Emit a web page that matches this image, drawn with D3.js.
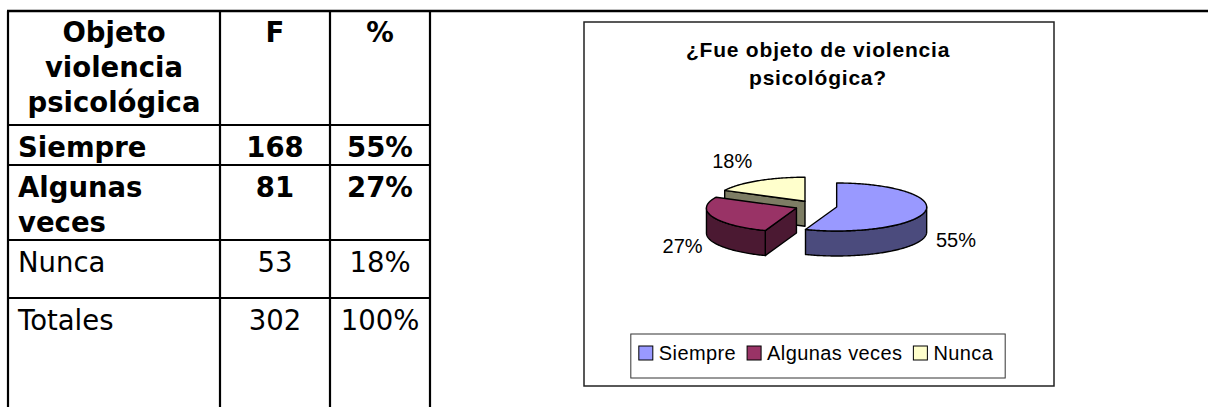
<!DOCTYPE html>
<html>
<head>
<meta charset="utf-8">
<script src="https://cdn.jsdelivr.net/npm/d3@7"></script>
<style>
  html, body { margin: 0; padding: 0; background: #fff; }
  svg { display: block; }
</style>
</head>
<body>
<svg id="chart" width="1208" height="407"></svg>
<script>
// data
const categories = ["Siempre", "Algunas veces", "Nunca"];
const freq = [168, 81, 53];
const pct = ["55%", "27%", "18%"];
const total_freq = 302;
const total_pct = "100%";

const header_lines = ["Objeto", "violencia", "psicológica"];
const header_cols = ["F", "%"];
const row_lines = [["Siempre"], ["Algunas", "veces"], ["Nunca"], ["Totales"]];
const row_bold = [true, true, false, false];
const title_lines = ["¿Fue objeto de violencia", "psicológica?"];
const top_colors = ["#9999ff", "#993366", "#ffffcc"];

const svg = d3.select("#chart");

// ---- table on the left ----
const col_x = [8, 220, 330, 430];
const row_y = [11, 125, 165, 240, 298, 420];
const table_font = "'DejaVu Sans', Verdana, sans-serif";
const line_h = 35;

const grid = svg.append("g").attr("stroke", "#000").attr("stroke-width", 2.2);

// long top line runs across to the page edge (outer table)
grid.append("line").attr("x1", col_x[0] - 1).attr("x2", 1208).attr("y1", row_y[0]).attr("y2", row_y[0]).attr("stroke-width", 2.6);
col_x.forEach(x => {
  grid.append("line").attr("x1", x).attr("x2", x).attr("y1", row_y[0]).attr("y2", 407);
});
row_y.slice(1, 5).forEach(y => {
  grid.append("line").attr("x1", col_x[0]).attr("x2", col_x[3]).attr("y1", y).attr("y2", y);
});

const cell_text = svg.append("g")
  .attr("font-family", table_font)
  .attr("font-size", 27.5)
  .attr("fill", "#000");

// header
header_lines.forEach((t, i) => {
  cell_text.append("text")
    .attr("x", (col_x[0] + col_x[1]) / 2)
    .attr("y", row_y[0] + 31 + i * line_h)
    .attr("text-anchor", "middle")
    .attr("font-weight", "bold")
    .text(t);
});
header_cols.forEach((t, i) => {
  cell_text.append("text")
    .attr("x", (col_x[i + 1] + col_x[i + 2]) / 2)
    .attr("y", row_y[0] + 31)
    .attr("text-anchor", "middle")
    .attr("font-weight", "bold")
    .text(t);
});

// body rows
const f_col = [...freq, total_freq];
const p_col = [...pct, total_pct];
row_lines.forEach((lines, r) => {
  const base = row_y[r + 1] + 32;
  const weight = row_bold[r] ? "bold" : "normal";
  lines.forEach((t, i) => {
    cell_text.append("text")
      .attr("x", col_x[0] + 10)
      .attr("y", base + i * line_h)
      .attr("font-weight", weight)
      .text(t);
  });
  cell_text.append("text")
    .attr("x", (col_x[1] + col_x[2]) / 2)
    .attr("y", base)
    .attr("text-anchor", "middle")
    .attr("font-weight", weight)
    .text(f_col[r]);
  cell_text.append("text")
    .attr("x", (col_x[2] + col_x[3]) / 2)
    .attr("y", base)
    .attr("text-anchor", "middle")
    .attr("font-weight", weight)
    .text(p_col[r]);
});

// ---- chart box on the right ----
const box = { x0: 584, y0: 22, x1: 1054, y1: 386 };
const box_cx = (box.x0 + box.x1) / 2 - 1;
const chart_font = "'Liberation Sans', Arial, sans-serif";

svg.append("rect")
  .attr("x", box.x0).attr("y", box.y0)
  .attr("width", box.x1 - box.x0).attr("height", box.y1 - box.y0)
  .attr("fill", "#fff").attr("stroke", "#222").attr("stroke-width", 1.5);

svg.append("g")
  .attr("font-family", chart_font)
  .attr("font-size", 21)
  .attr("font-weight", "bold")
  .attr("letter-spacing", 0.8)
  .selectAll("text")
  .data(title_lines)
  .join("text")
  .attr("x", box_cx)
  .attr("y", (d, i) => 57 + i * 28)
  .attr("text-anchor", "middle")
  .text(d => d);

// 3D exploded pie
const arcs = d3.pie().sort(null).value(d => d)(freq);
const rx = 90, ry = 24, depth = 25, explode = 21;
const pie_c = [816, 206];

function at(c, a, r = 1) {
  return [c[0] + rx * r * Math.sin(a), c[1] - ry * r * Math.cos(a)];
}
function arc_points(c, a0, a1, dy = 0) {
  const n = Math.max(2, Math.ceil(Math.abs(a1 - a0) / (Math.PI / 180)));
  return d3.range(n + 1).map(i => {
    const p = at(c, a0 + (a1 - a0) * i / n);
    return [p[0], p[1] + dy];
  });
}
const poly = d3.line();

const slices = arcs.map((d, i) => {
  const mid = (d.startAngle + d.endAngle) / 2;
  const c = [pie_c[0] + explode * Math.sin(mid), pie_c[1] - explode * (ry / rx) * Math.cos(mid)];
  return { d, i, mid, c };
});

const pie_g = svg.append("g")
  .attr("stroke", "#000")
  .attr("stroke-width", 1.4)
  .attr("stroke-linejoin", "round");

slices.slice().sort((a, b) => a.c[1] - b.c[1]).forEach(s => {
  const { d, c } = s;
  const top = top_colors[s.i];
  const side = d3.color(top).darker(2).formatHex();
  const g = pie_g.append("g");

  // cut faces that look toward the viewer
  [[d.startAngle, Math.sin(d.startAngle) < -1e-6], [d.endAngle, Math.sin(d.endAngle) > 1e-6]]
    .forEach(([a, visible]) => {
      if (!visible) return;
      const p = at(c, a);
      g.append("path")
        .attr("d", poly([c, p, [p[0], p[1] + depth], [c[0], c[1] + depth]]) + "Z")
        .attr("fill", side);
    });

  // outer wall on the front half
  const a0 = Math.max(d.startAngle, Math.PI / 2);
  const a1 = Math.min(d.endAngle, Math.PI * 1.5);
  if (a1 > a0) {
    const pts = arc_points(c, a0, a1).concat(arc_points(c, a1, a0, depth));
    g.append("path").attr("d", poly(pts) + "Z").attr("fill", side);
  }

  // top face
  g.append("path")
    .attr("d", poly([c, ...arc_points(c, d.startAngle, d.endAngle)]) + "Z")
    .attr("fill", top);
});

// percentage labels
svg.append("g")
  .attr("font-family", chart_font)
  .attr("font-size", 20)
  .selectAll("text")
  .data(slices)
  .join("text")
  .each(function (s) {
    const front = Math.cos(s.mid) < 0;
    const p = at(s.c, s.mid, 1.12);
    d3.select(this)
      .attr("x", p[0])
      .attr("y", p[1] + (front ? depth + 10 : -10))
      .attr("text-anchor", Math.sin(s.mid) >= 0 ? "start" : "end");
  })
  .text(s => pct[s.i]);

// legend
const legend = svg.append("g")
  .attr("font-family", chart_font)
  .attr("font-size", 20)
  .attr("letter-spacing", 0.4);
const sq = 14, sq_gap = 6, item_gap = 11, pad = 8;
let cursor = 0;
categories.forEach((name, i) => {
  const g = legend.append("g");
  g.append("rect")
    .attr("x", cursor).attr("y", -sq)
    .attr("width", sq).attr("height", sq)
    .attr("fill", top_colors[i]).attr("stroke", "#000").attr("stroke-width", 1);
  const t = g.append("text").attr("x", cursor + sq + sq_gap).attr("y", 0).text(name);
  cursor += sq + sq_gap + t.node().getComputedTextLength() + item_gap;
});
const legend_w = cursor - item_gap + pad * 2 + 4;
const legend_x = box_cx - legend_w / 2;
legend.insert("rect", ":first-child")
  .attr("x", -pad).attr("y", -26)
  .attr("width", legend_w).attr("height", 44)
  .attr("fill", "#fff").attr("stroke", "#333").attr("stroke-width", 1);
legend.attr("transform", `translate(${legend_x + pad},${360})`);
</script>
</body>
</html>
